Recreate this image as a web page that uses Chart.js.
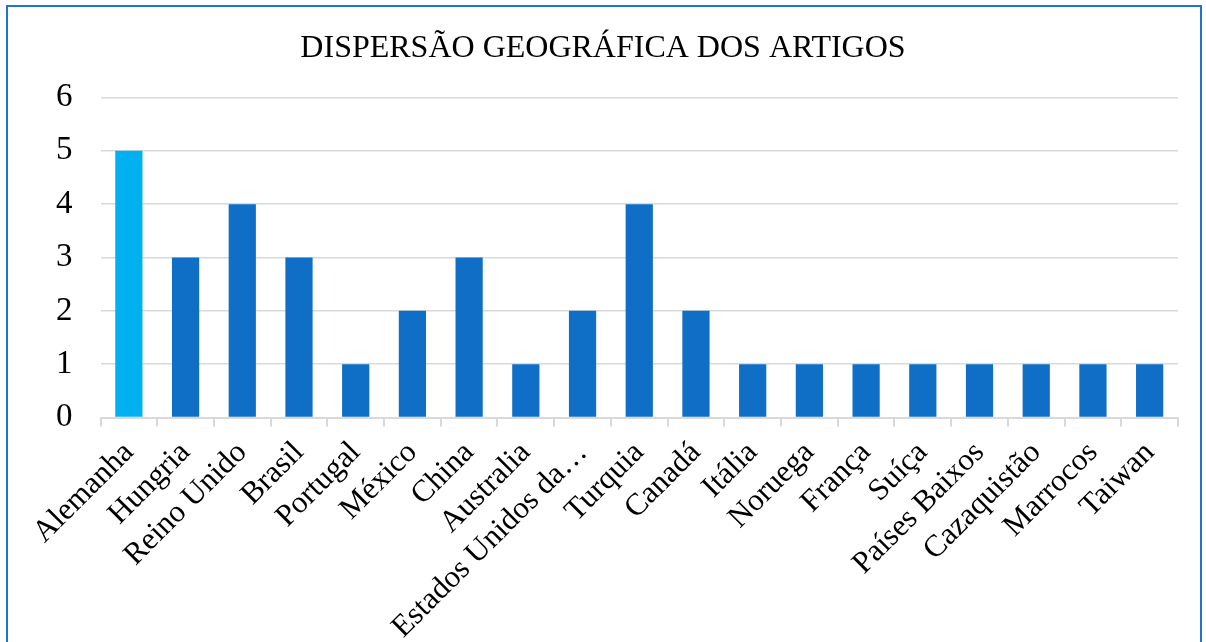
<!DOCTYPE html>
<html>
<head>
<meta charset="utf-8">
<script src="https://cdn.jsdelivr.net/npm/chart.js@4/dist/chart.umd.min.js"></script>
<style>
  html, body { margin: 0; padding: 0; background: #fff; overflow: hidden; }
  #wrap { position: relative; width: 1206px; height: 642px; overflow: hidden; }
  #frame { position: absolute; left: 6px; top: 5px; width: 1196px; height: 660px; border: 2px solid #1F74CF; box-sizing: border-box; pointer-events: none; }
  canvas { position: absolute; left: 0; top: 0; }
</style>
</head>
<body>
<div id="wrap">
  <canvas id="c" width="1206" height="656"></canvas>
  <div id="frame"></div>
</div>
<script>
const categories = ["Alemanha", "Hungria", "Reino Unido", "Brasil", "Portugal", "México", "China", "Australia", "Estados Unidos da América", "Turquia", "Canadá", "Itália", "Noruega", "França", "Suíça", "Países Baixos", "Cazaquistão", "Marrocos", "Taiwan"];
const artigos = [5, 3, 4, 3, 1, 2, 3, 1, 2, 4, 2, 1, 1, 1, 1, 1, 1, 1, 1];
const yTicks = [0, 1, 2, 3, 4, 5, 6];
const titleText = "DISPERSÃO GEOGRÁFICA DOS ARTIGOS";

const highlight = "#00B0F0";
const base = "#0F6EC6";
const colors = artigos.map((v, i) => i === 0 ? highlight : base);

new Chart(document.getElementById('c'), {
  type: 'bar',
  data: {
    labels: categories,
    datasets: [{
      data: artigos,
      backgroundColor: colors,
      borderWidth: 0,
      barPercentage: 0.48,
      categoryPercentage: 1.0
    }]
  },
  options: {
    responsive: false,
    animation: false,
    layout: { padding: { left: 28, right: 28, top: 0, bottom: 2 } },
    plugins: {
      legend: { display: false },
      tooltip: { enabled: false },
      title: {
        display: true,
        text: titleText,
        color: '#000',
        font: { family: 'Liberation Serif', size: 32, weight: 'normal' },
        padding: { top: 29, bottom: 30 }
      }
    },
    scales: {
      x: {
        grid: { display: true, drawOnChartArea: false, drawTicks: true, tickLength: 9, offset: true, color: '#D9D9D9', lineWidth: 2 },
        border: { display: true, color: '#D9D9D9', width: 2 },
        ticks: {
          color: '#000',
          font: { family: 'Liberation Serif', size: 31 },
          minRotation: 45,
          maxRotation: 45,
          autoSkip: false,
          padding: 8,
          callback: function(v, i) {
            const s = categories[i];
            return s.length > 18 ? s.slice(0, 17) + '…' : s;
          }
        }
      },
      y: {
        min: 0,
        max: 6,
        afterBuildTicks: (axis) => { axis.ticks = yTicks.map(v => ({ value: v })); },
        grid: { color: '#D9D9D9', lineWidth: 1.5, drawTicks: false },
        border: { display: false },
        ticks: {
          color: '#000',
          font: { family: 'Liberation Serif', size: 33 },
          padding: 28
        }
      }
    }
  }
});
</script>
</body>
</html>
